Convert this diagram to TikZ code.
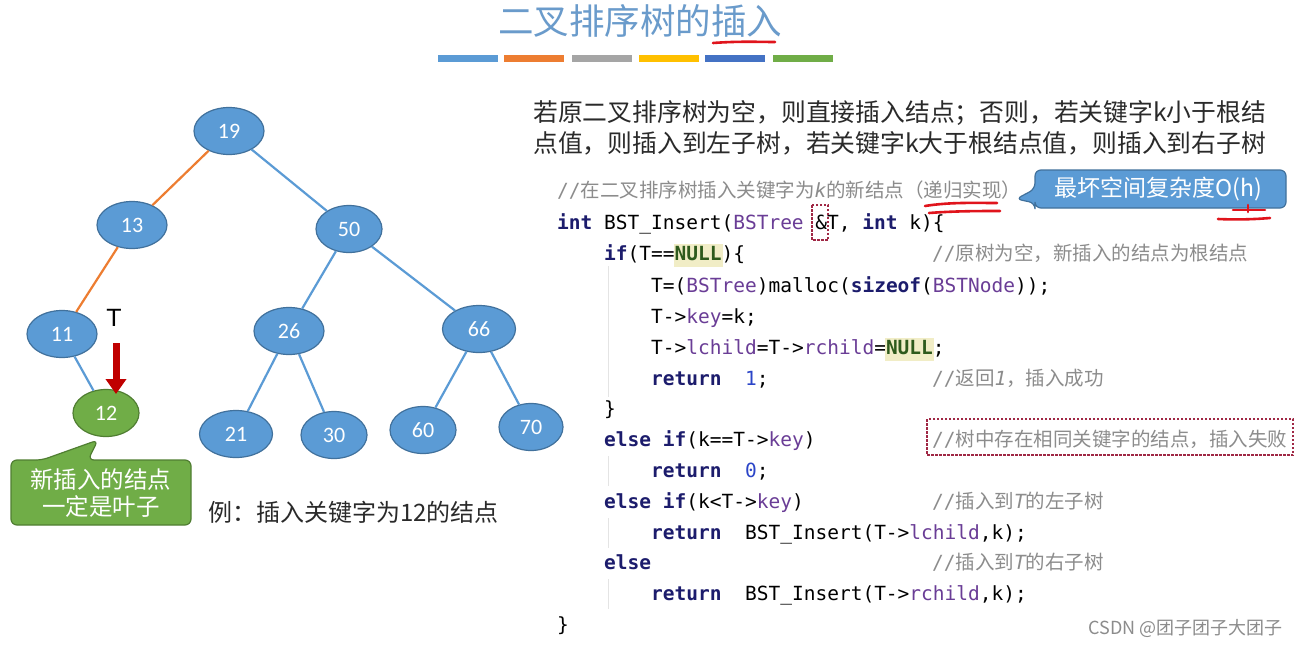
\documentclass[tikz,border=0pt]{standalone}
\usepackage{fontspec}
\usepackage{xcolor}
\usepackage{tikz}
\usetikzlibrary{arrows.meta,shapes.geometric}
\setmainfont{Noto Sans CJK SC}
\newfontfamily\cjkfont{Noto Sans CJK SC}
\newfontfamily\codefont{DejaVu Sans Mono}
\newfontfamily\numfont{Carlito}
\newfontfamily\latfont{Liberation Sans}
\definecolor{titleblue}{HTML}{6A9BCB}
\definecolor{nodeblue}{HTML}{5B9BD5}
\definecolor{nodeline}{HTML}{41719C}
\definecolor{leafgreen}{HTML}{70AD47}
\definecolor{leafline}{HTML}{507E32}
\definecolor{pathorange}{HTML}{ED7D31}
\definecolor{bargray}{HTML}{A5A5A5}
\definecolor{baryellow}{HTML}{FFC000}
\definecolor{bardark}{HTML}{4472C4}
\definecolor{arrowred}{HTML}{C00000}
\definecolor{inkred}{HTML}{E0141C}
\definecolor{boxred}{HTML}{A02845}
\definecolor{kwblue}{HTML}{1C1C6C}
\definecolor{typurple}{HTML}{6A3D96}
\definecolor{numblue}{HTML}{2B45C8}
\definecolor{nullgreen}{HTML}{2E5A1C}
\definecolor{nullbg}{HTML}{F1EDC6}
\definecolor{cmtgray}{HTML}{8C8C8C}
\definecolor{bodytext}{HTML}{2A2A2A}
\definecolor{guide}{HTML}{E4E4E4}
\newcommand{\kw}[1]{{\bfseries\color{kwblue}#1}}
\newcommand{\ty}[1]{{\color{typurple}#1}}
\newcommand{\nm}[1]{{\color{numblue}#1}}
\newcommand{\nullhl}[1]{\hspace{-1pt}{\fboxsep=1pt\colorbox{nullbg}{\rule[-6pt]{0pt}{21pt}\bfseries\color{nullgreen}#1}}\hspace{-1pt}}
\newcommand{\cmt}[1]{{\color{cmtgray}//\cjkfont #1}}
\newcommand{\itc}[1]{{\codefont\itshape #1}}
\tikzset{
  treenode/.style={ellipse, draw=nodeline, fill=nodeblue, line width=1.2pt, inner sep=0pt,
                   minimum width=70pt, minimum height=47pt, text=white,
                   font=\numfont\fontsize{22}{24}\selectfont},
  leafnode/.style={treenode, draw=leafline, fill=leafgreen},
  treeedge/.style={draw=nodeblue, line width=2.2pt},
  pathedge/.style={draw=pathorange, line width=2.2pt},
  codeline/.style={anchor=base west, inner sep=0pt, text=black,
                   font=\codefont\fontsize{19.5}{22}\selectfont},
  bodyline/.style={anchor=base west, inner sep=0pt, text=bodytext,
                   font=\fontsize{24.8}{28}\selectfont},
  bar/.style={minimum width=60pt, minimum height=7pt, inner sep=0pt, draw=none},
  ink/.style={draw=inkred, line width=2.6pt, line cap=round},
  dashbox/.style={draw=boxred, line width=1.1pt, dash pattern=on 2.5pt off 1.5pt},
  guideline/.style={draw=guide, line width=1pt},
}
\begin{document}
\begin{tikzpicture}[x=1pt, y=-1pt]
\useasboundingbox[fill=white] (0,0) rectangle (1299,646);

% title and colour bars
\node[anchor=base, inner sep=0pt, text=titleblue, font=\fontsize{35.5}{38}\selectfont] (title) at (640,34) {二叉排序树的插入};
\draw[ink] (713,43) .. controls (740,41) and (760,42) .. (775,42);
\node[bar, fill=nodeblue]   (bar1) at (468,58) {};
\node[bar, fill=pathorange] (bar2) at (534,58) {};
\node[bar, fill=bargray]    (bar3) at (602,58) {};
\node[bar, fill=baryellow]  (bar4) at (669,58) {};
\node[bar, fill=bardark]    (bar5) at (735,58) {};
\node[bar, fill=leafgreen]  (bar6) at (803,58) {};

% tree
\node[treenode] (n19) at (229,131) {19};
\node[treenode] (n13) at (132,225) {13};
\node[treenode, minimum width=66pt] (n50) at (349,229) {50};
\node[treenode] (n11) at (62,334) {11};
\node[treenode] (n26) at (289,331) {26};
\node[treenode, minimum width=73pt] (n66) at (479,329) {66};
\node[leafnode, minimum width=66pt] (n12) at (106,413) {12};
\node[treenode, minimum width=73pt] (n21) at (236,434) {21};
\node[treenode, minimum width=66pt] (n30) at (334,435) {30};
\node[treenode, minimum width=66pt] (n60) at (423,430) {60};
\node[treenode, minimum width=64pt] (n70) at (531,427) {70};
\draw[pathedge] (n19) -- (n13);
\draw[pathedge] (n13) -- (n11);
\draw[treeedge] (n19) -- (n50);
\draw[treeedge] (n11) -- (n12);
\draw[treeedge] (n50) -- (n26);
\draw[treeedge] (n50) -- (n66);
\draw[treeedge] (n26) -- (n21);
\draw[treeedge] (n26) -- (n30);
\draw[treeedge] (n66) -- (n60);
\draw[treeedge] (n66) -- (n70);

% the pointer T
\node[inner sep=0pt, font=\latfont\fontsize{25}{27}\selectfont] (tlabel) at (114,318) {T};
\coordinate (tfrom) at (116,343);
\coordinate (tto) at (116,394);
\draw[draw=arrowred, line width=7pt, -{Triangle[length=15pt, width=20pt]}] (tfrom) -- (tto);

% callout: new leaf
\draw[draw=leafline, fill=leafgreen, line width=1.2pt, rounded corners=6pt]
  (98,440) -- (88,460) -- (191,460) -- (191,525) -- (11,525) -- (11,460) -- (42,460) -- cycle;
\node[align=center, text=white, inner sep=0pt, font=\fontsize{23.5}{27}\selectfont] (leafnote) at (101,493)
  {新插入的结点\\一定是叶子};
\node[anchor=base west, inner sep=0pt, text=bodytext, font=\fontsize{24}{26}\selectfont] (example) at (208,521)
  {例：插入关键字为12的结点};

% description
\node[bodyline] (intro1) at (533,121) {若原二叉排序树为空，则直接插入结点；否则，若关键字k小于根结};
\node[bodyline] (intro2) at (533,152) {点值，则插入到左子树，若关键字k大于根结点值，则插入到右子树};

% code
\draw[guideline] (608,266) -- (608,397);
\draw[guideline] (608,456) -- (608,486);
\draw[guideline] (608,518) -- (608,548);
\draw[guideline] (608,579) -- (608,609);
\node[codeline] (c0) at (557,197) {\cmt{在二叉排序树插入关键字为\itc{k}的新结点（递归实现）}};
\node[codeline] (c1) at (557,229) {\kw{int} BST\_Insert(\ty{BSTree} \&T, \kw{int} k)\{};
\node[codeline] (c2) at (604,260) {\kw{if}(T==\nullhl{NULL})\{};
\node[codeline] (c3) at (651,292) {T=(\ty{BSTree})malloc(\kw{sizeof}(\ty{BSTNode}));};
\node[codeline] (c4) at (651,323) {T->\ty{key}=k;};
\node[codeline] (c5) at (651,354) {T->\ty{lchild}=T->\ty{rchild}=\nullhl{NULL};};
\node[codeline] (c6) at (651,385) {\kw{return}\ \ \nm{1};};
\node[codeline] (c7) at (604,415) {\}};
\node[codeline] (c8) at (604,446) {\kw{else if}(k==T->\ty{key})};
\node[codeline] (c9) at (651,477) {\kw{return}\ \ \nm{0};};
\node[codeline] (c10) at (604,508) {\kw{else if}(k<T->\ty{key})};
\node[codeline] (c11) at (651,539) {\kw{return}\ \ BST\_Insert(T->\ty{lchild},k);};
\node[codeline] (c12) at (604,569) {\kw{else}};
\node[codeline] (c13) at (651,600) {\kw{return}\ \ BST\_Insert(T->\ty{rchild},k);};
\node[codeline] (c14) at (557,631) {\}};
\node[codeline] (m2) at (932,260) {\cmt{原树为空，新插入的结点为根结点}};
\node[codeline] (m6) at (932,385) {\cmt{返回\itc{1}，插入成功}};
\node[codeline] (m8) at (932,446) {\cmt{树中存在相同关键字的结点，插入失败}};
\node[codeline] (m10) at (932,508) {\cmt{插入到\itc{T}的左子树}};
\node[codeline] (m12) at (932,569) {\cmt{插入到\itc{T}的右子树}};
\draw[dashbox] (812,205) rectangle (828,240);
\draw[dashbox] (927,419) rectangle (1293,455);

% callout: space complexity
\draw[draw=nodeline, fill=nodeblue, line width=1.2pt, rounded corners=6pt]
  (1016,199) -- (1035,189) -- (1035,170) -- (1286,170) -- (1286,208) -- (1035,208) -- (1035,203) -- cycle;
\node[text=white, inner sep=0pt, font=\fontsize{23}{25}\selectfont] (ohnote) at (1158,189) {最坏空间复杂度O(h)};

% red ink
\draw[ink] (925,206) .. controls (950,202) and (975,203) .. (997,203);
\draw[ink] (929,213) .. controls (955,211) and (980,211) .. (1000,211);
\draw[ink] (1233,210) -- (1265,210);
\draw[ink] (1248,205) -- (1248,212);
\draw[ink] (1218,219) .. controls (1240,220) and (1258,219) .. (1270,218);

% watermark
\node[anchor=base east, inner sep=0pt, text=cmtgray, font=\fontsize{18}{20}\selectfont] (mark) at (1283,634) {CSDN @团子团子大团子};
\end{tikzpicture}
\end{document}
